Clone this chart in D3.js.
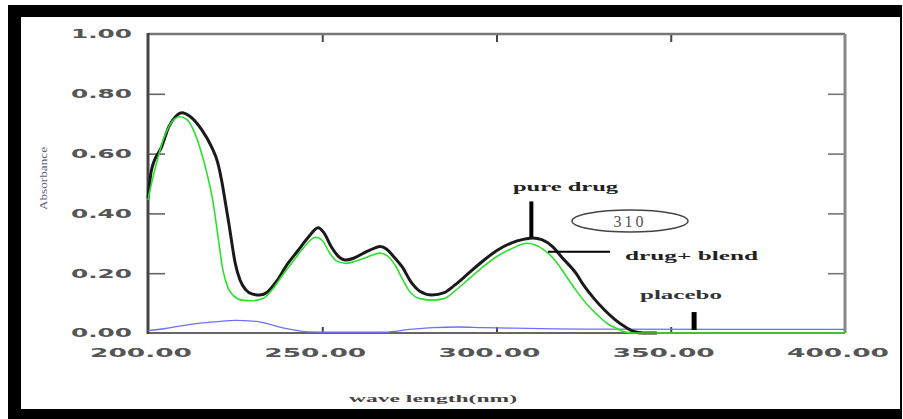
<!DOCTYPE html>
<html>
<head>
<meta charset="utf-8">
<script src="https://cdn.jsdelivr.net/npm/d3@7/dist/d3.min.js"></script>
<style>
  html, body { margin: 0; padding: 0; background: #fff; }
  svg { display: block; }
</style>
</head>
<body>
<svg id="chart" width="903" height="419"></svg>
<script>
// UV absorbance spectra: wavelength (nm) against absorbance
const pureDrugNm = [200, 201, 204, 206, 208, 209.7, 212, 215.4, 218.2, 220, 221.1, 222.3, 223.5, 225, 226.4, 228, 230, 232, 234, 237, 240, 243, 246, 248.8, 250.5, 252.5, 254.5, 256.7, 259, 262, 265, 266.6, 268.5, 270.5, 273, 275.5, 278, 281.5, 285, 288, 292, 296, 300, 304, 308, 310.4, 313, 316, 319, 322.8, 325, 328, 331, 334, 337, 339.4, 342, 346];
const pureDrugAbs = [0.45, 0.545, 0.625, 0.69, 0.725, 0.737, 0.725, 0.68, 0.623, 0.57, 0.512, 0.43, 0.344, 0.235, 0.177, 0.145, 0.13, 0.127, 0.135, 0.175, 0.23, 0.275, 0.32, 0.352, 0.335, 0.29, 0.258, 0.244, 0.25, 0.268, 0.284, 0.289, 0.28, 0.255, 0.22, 0.17, 0.14, 0.127, 0.135, 0.16, 0.2, 0.24, 0.275, 0.3, 0.314, 0.318, 0.312, 0.29, 0.25, 0.2, 0.16, 0.115, 0.077, 0.045, 0.02, 0.005, 0.0, 0.0];

const blendNm = [200, 201, 202.5, 204.3, 206, 207.5, 209.2, 211, 213, 215.4, 217, 218.7, 220, 221.5, 223, 224.5, 227, 230, 233, 236, 239, 242, 245, 248.1, 250, 252, 254, 256.7, 259, 262, 265, 266.6, 269, 271, 273, 275, 278, 281.5, 285, 288, 292, 296, 300, 304, 308.8, 311, 314, 317, 320, 323, 326, 329, 332, 334.4, 337, 340, 400];
const blendAbs = [0.445, 0.5, 0.57, 0.645, 0.69, 0.715, 0.723, 0.715, 0.68, 0.6, 0.53, 0.435, 0.33, 0.21, 0.15, 0.125, 0.11, 0.108, 0.115, 0.15, 0.2, 0.245, 0.29, 0.32, 0.31, 0.27, 0.242, 0.233, 0.238, 0.25, 0.263, 0.267, 0.255, 0.225, 0.18, 0.14, 0.115, 0.11, 0.115, 0.14, 0.18, 0.22, 0.255, 0.28, 0.3, 0.295, 0.275, 0.24, 0.19, 0.14, 0.095, 0.06, 0.03, 0.016, 0.003, 0.0, 0.0];

const placeboNm = [200, 205, 210, 215, 220, 225, 230, 233, 237, 241, 246, 255, 268, 275, 282, 289, 296, 305, 317, 330, 400];
const placeboAbs = [0.008, 0.015, 0.025, 0.033, 0.038, 0.042, 0.04, 0.035, 0.022, 0.012, 0.004, 0.003, 0.003, 0.012, 0.018, 0.02, 0.018, 0.016, 0.014, 0.013, 0.012];

const xTicks = [200, 250, 300, 350, 400];
const xTickLabels = ["200.00", "250.00", "300.00", "350.00", "400.00"];
const yTicks = [0, 0.2, 0.4, 0.6, 0.8, 1.0];
const yTickLabels = ["0.00", "0.20", "0.40", "0.60", "0.80", "1.00"];

const svg = d3.select("#chart");

// outer black frame
svg.append("rect").attr("x", 8).attr("y", 5).attr("width", 894).attr("height", 414).attr("fill", "#000");
svg.append("rect").attr("x", 21).attr("y", 17).attr("width", 879).attr("height", 392).attr("fill", "#fff");

const plot = { left: 148, right: 845, top: 34, bottom: 333 };
const x = d3.scaleLinear().domain([200, 400]).range([plot.left, plot.right]);
const y = d3.scaleLinear().domain([0, 1]).range([plot.bottom, plot.top]);

// inward ticks on all four sides
const g = svg.append("g");
g.append("g").attr("transform", `translate(${plot.left},0)`)
  .call(d3.axisRight(y).tickValues(yTicks.slice(1, 5)).tickSize(17).tickFormat(""))
  .call(a => a.select(".domain").remove())
  .call(a => a.selectAll("line").attr("stroke", "#666").attr("stroke-width", 1.6));
g.append("g").attr("transform", `translate(${plot.right},0)`)
  .call(d3.axisLeft(y).tickValues(yTicks.slice(1, 5)).tickSize(17).tickFormat(""))
  .call(a => a.select(".domain").remove())
  .call(a => a.selectAll("line").attr("stroke", "#777").attr("stroke-width", 1.6));
g.append("g").attr("transform", `translate(0,${plot.top})`)
  .call(d3.axisBottom(x).tickValues(xTicks.slice(1, 4)).tickSize(8).tickFormat(""))
  .call(a => a.select(".domain").remove())
  .call(a => a.selectAll("line").attr("stroke", "#444").attr("stroke-width", 2));
g.append("g").attr("transform", `translate(0,${plot.bottom})`)
  .call(d3.axisTop(x).tickValues(xTicks.slice(1, 4)).tickSize(6).tickFormat(""))
  .call(a => a.select(".domain").remove())
  .call(a => a.selectAll("line").attr("stroke", "#444").attr("stroke-width", 2));

// plot box
g.append("line").attr("x1", plot.left).attr("x2", plot.right).attr("y1", plot.top).attr("y2", plot.top)
  .attr("stroke", "#777").attr("stroke-width", 2.5);
g.append("line").attr("x1", plot.right).attr("x2", plot.right).attr("y1", plot.top).attr("y2", plot.bottom)
  .attr("stroke", "#888").attr("stroke-width", 3);
g.append("line").attr("x1", plot.left).attr("x2", plot.right).attr("y1", plot.bottom).attr("y2", plot.bottom)
  .attr("stroke", "#666").attr("stroke-width", 2);
g.append("line").attr("x1", plot.left).attr("x2", plot.left).attr("y1", plot.top - 1).attr("y2", plot.bottom + 1)
  .attr("stroke", "#444").attr("stroke-width", 3);

// tick labels
const tickFont = "'DejaVu Sans', sans-serif";
svg.append("g").selectAll("text").data(yTicks).join("text")
  .attr("x", 71).attr("y", d => y(d)).attr("dy", "0.36em")
  .attr("textLength", 61).attr("lengthAdjust", "spacingAndGlyphs")
  .attr("font-family", tickFont).attr("font-weight", "bold").attr("font-size", 12)
  .attr("fill", "#555")
  .text((d, i) => yTickLabels[i]);
svg.append("g").selectAll("text").data(xTicks).join("text")
  .attr("x", d => x(d) - 7 - 51).attr("y", 353).attr("dy", "0.36em")
  .attr("textLength", 102).attr("lengthAdjust", "spacingAndGlyphs")
  .attr("font-family", tickFont).attr("font-weight", "bold").attr("font-size", 12)
  .attr("fill", "#555")
  .text((d, i) => xTickLabels[i]);

// axis titles
svg.append("text").attr("x", 349).attr("y", 398).attr("dy", "0.35em")
  .attr("textLength", 168).attr("lengthAdjust", "spacingAndGlyphs")
  .attr("font-family", "'Liberation Serif', serif").attr("font-weight", "bold").attr("font-size", 11)
  .attr("fill", "#4a4040").text("wave length(nm)");
svg.append("text").attr("transform", "translate(43,210) rotate(-90)").attr("dy", "0.35em")
  .attr("textLength", 63).attr("lengthAdjust", "spacingAndGlyphs")
  .attr("font-family", "'Liberation Serif', serif").attr("font-size", 11)
  .attr("fill", "#5a6070").text("Absorbance");

// spectra
const line = d3.line().x(d => x(d[0])).y(d => y(d[1])).curve(d3.curveMonotoneX);
const placebo = placeboNm.map((d, i) => [d, placeboAbs[i]]);
const blend = blendNm.map((d, i) => [d, blendAbs[i]]);
const pure = pureDrugNm.map((d, i) => [d, pureDrugAbs[i]]);

svg.append("path").datum(placebo).attr("d", line)
  .attr("fill", "none").attr("stroke", "#6f6fff").attr("stroke-width", 1.3);
svg.append("path").datum(pure).attr("d", line)
  .attr("fill", "none").attr("stroke", "#1a1a1a").attr("stroke-width", 3);
svg.append("path").datum(blend).attr("d", line)
  .attr("fill", "none").attr("stroke", "#2ee02e").attr("stroke-width", 1.6);

// annotations
const serif = "'Liberation Serif', serif";
svg.append("line").attr("x1", x(310)).attr("x2", x(310)).attr("y1", y(0.32)).attr("y2", y(0.44))
  .attr("stroke", "#000").attr("stroke-width", 4);
svg.append("text").attr("x", 513).attr("y", 186).attr("dy", "0.35em")
  .attr("textLength", 105).attr("lengthAdjust", "spacingAndGlyphs")
  .attr("font-family", serif).attr("font-weight", "bold").attr("font-size", 13)
  .attr("fill", "#222").text("pure drug");

svg.append("ellipse").attr("cx", 630).attr("cy", 221).attr("rx", 58).attr("ry", 11)
  .attr("fill", "none").attr("stroke", "#444").attr("stroke-width", 1.5);
svg.append("text").attr("x", 630).attr("y", 221).attr("dy", "0.35em").attr("text-anchor", "middle")
  .attr("font-family", serif).attr("font-size", 16).attr("letter-spacing", 3)
  .attr("fill", "#555").text("310");

svg.append("line").attr("x1", x(314.8)).attr("x2", x(332.6)).attr("y1", y(0.272)).attr("y2", y(0.272))
  .attr("stroke", "#000").attr("stroke-width", 2);
svg.append("text").attr("x", 625).attr("y", 255).attr("dy", "0.35em")
  .attr("textLength", 133).attr("lengthAdjust", "spacingAndGlyphs")
  .attr("font-family", serif).attr("font-weight", "bold").attr("font-size", 13)
  .attr("fill", "#222").text("drug+ blend");

svg.append("line").attr("x1", x(356.7)).attr("x2", x(356.7)).attr("y1", y(0.01)).attr("y2", y(0.07))
  .attr("stroke", "#000").attr("stroke-width", 5);
svg.append("text").attr("x", 640).attr("y", 295).attr("dy", "0.35em")
  .attr("textLength", 82).attr("lengthAdjust", "spacingAndGlyphs")
  .attr("font-family", serif).attr("font-weight", "bold").attr("font-size", 12)
  .attr("fill", "#333").text("placebo");
</script>
</body>
</html>
